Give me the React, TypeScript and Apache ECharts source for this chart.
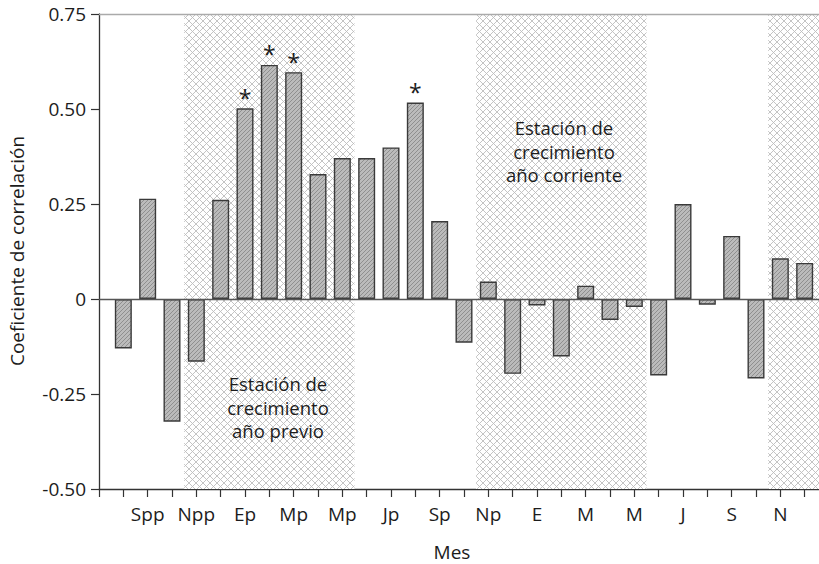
import React, { useEffect, useRef } from 'react';
import * as echarts from 'echarts';

// Month position (1 = Ago pp ... 29 = Dic) and correlation coefficient
const monthIndex = [
  1, 2, 3, 4, 5, 6, 7, 8, 9, 10, 11, 12, 13, 14, 15,
  16, 17, 18, 19, 20, 21, 22, 23, 24, 25, 26, 27, 28, 29,
];
const correlation = [
  -0.13, 0.264, -0.323, -0.165, 0.261, 0.502, 0.616, 0.597, 0.329, 0.371,
  0.371, 0.399, 0.517, 0.205, -0.115, 0.046, -0.197, -0.017, -0.151, 0.035,
  -0.055, -0.021, -0.201, 0.25, -0.015, 0.166, -0.209, 0.107, 0.095,
];
const significantMonths = [6, 7, 8, 13];
const tickLabels = [
  '', 'Spp', '', 'Npp', '', 'Ep', '', 'Mp', '', 'Mp', '', 'Jp', '', 'Sp', '',
  'Np', '', 'E', '', 'M', '', 'M', '', 'J', '', 'S', '', 'N', '',
];
const seasons = [
  [3.5, 10.5],
  [15.5, 22.5],
  [27.5, 30],
];
const noteCurrent = 'Estación de\ncrecimiento\naño corriente';
const notePrevious = 'Estación de\ncrecimiento\naño previo';
const yName = 'Coeficiente de correlación';
const xName = 'Mes';

const FONT = '"Open Sans", "Noto Sans", sans-serif';
const INK = '#1c1c1c';

function makeBarPattern(): HTMLCanvasElement {
  const c = document.createElement('canvas');
  const s = 4;
  c.width = s;
  c.height = s;
  const g = c.getContext('2d')!;
  g.fillStyle = '#bbbbbb';
  g.fillRect(0, 0, s, s);
  g.strokeStyle = '#8a8a8a';
  g.lineWidth = 0.9;
  g.beginPath();
  g.moveTo(-1, s + 1);
  g.lineTo(s + 1, -1);
  g.moveTo(-1, 1);
  g.lineTo(1, -1);
  g.moveTo(s - 1, s + 1);
  g.lineTo(s + 1, s - 1);
  g.stroke();
  return c;
}

function makeCrossPattern(): HTMLCanvasElement {
  const c = document.createElement('canvas');
  const s = 7;
  c.width = s;
  c.height = s;
  const g = c.getContext('2d')!;
  g.fillStyle = '#ffffff';
  g.fillRect(0, 0, s, s);
  g.strokeStyle = '#bdbdbd';
  g.lineWidth = 0.9;
  g.beginPath();
  g.moveTo(-1, -1);
  g.lineTo(s + 1, s + 1);
  g.moveTo(-1, s + 1);
  g.lineTo(s + 1, -1);
  g.stroke();
  return c;
}

export default function App() {
  const ref = useRef<HTMLDivElement>(null);

  useEffect(() => {
    if (!ref.current) return;
    const chart = echarts.init(ref.current, undefined, { renderer: 'svg' });
    const barPattern = { image: makeBarPattern(), repeat: 'repeat' };
    const crossPattern = { image: makeCrossPattern(), repeat: 'repeat' };

    const option: any = {
      animation: false,
      backgroundColor: '#ffffff',
      textStyle: { fontFamily: FONT },
      grid: {
        left: 99,
        right: -10,
        top: 14,
        bottom: 75,
        containLabel: false,
        outerBoundsMode: 'none',
      },
      xAxis: {
        type: 'value',
        min: 0,
        max: 30,
        interval: 1,
        axisLine: { show: true, onZero: false, lineStyle: { color: '#333', width: 1.3 } },
        axisTick: { show: true, length: 8, lineStyle: { color: '#333', width: 1.2 } },
        axisLabel: {
          fontSize: 19,
          color: INK,
          fontFamily: FONT,
          margin: 15,
          showMinLabel: true,
          showMaxLabel: true,
          hideOverlap: false,
          formatter: (v: number) => {
            const i = Math.round(v) - 1;
            return i >= 0 && i < tickLabels.length ? tickLabels[i] : '';
          },
        },
        splitLine: { show: false },
      },
      yAxis: {
        type: 'value',
        min: -0.5,
        max: 0.75,
        interval: 0.25,
        axisLine: { show: true, lineStyle: { color: '#333', width: 1.3 } },
        axisTick: { show: true, length: 8, lineStyle: { color: '#333', width: 1.2 } },
        axisLabel: {
          fontSize: 19,
          lineHeight: 16,
          color: INK,
          fontFamily: FONT,
          margin: 13,
          formatter: (v: number) => (Math.abs(v) < 1e-9 ? '0' : v.toFixed(2)),
        },
        splitLine: { show: false },
      },
      series: [
        {
          type: 'bar',
          barWidth: 17,
          data: monthIndex.map((m, i) => [m, correlation[i]]),
          itemStyle: {
            color: barPattern,
            borderColor: '#3a3a3a',
            borderWidth: 1.4,
          },
          label: {
            show: true,
            position: 'top',
            distance: -1,
            fontSize: 23,
            color: INK,
            fontFamily: FONT,
            formatter: (p: any) => (significantMonths.includes(p.data[0]) ? '*' : ''),
          },
          markArea: {
            silent: true,
            z: 1,
            itemStyle: { color: crossPattern },
            data: seasons.map((s) => [{ xAxis: s[0] }, { xAxis: s[1] }]),
          },
          markLine: {
            silent: true,
            symbol: 'none',
            label: { show: false },
            data: [
              { yAxis: 0, lineStyle: { color: '#555', width: 1.3, type: 'solid' } },
              { yAxis: 0.75, lineStyle: { color: '#aaa', width: 1.3, type: 'solid' } },
            ],
          },
        },
      ],
      graphic: [
        {
          type: 'text',
          x: 278,
          y: 407,
          style: {
            text: notePrevious,
            fontSize: 18.5,
            lineHeight: 23.5,
            fontFamily: FONT,
            fill: INK,
            align: 'center',
            verticalAlign: 'middle',
          },
          z: 10,
        },
        {
          type: 'text',
          x: 564,
          y: 151,
          style: {
            text: noteCurrent,
            fontSize: 18.5,
            lineHeight: 23.5,
            fontFamily: FONT,
            fill: INK,
            align: 'center',
            verticalAlign: 'middle',
          },
          z: 10,
        },
        {
          type: 'text',
          x: 17,
          y: 251,
          rotation: Math.PI / 2,
          style: {
            text: yName,
            fontSize: 19,
            fontFamily: FONT,
            fill: INK,
            align: 'center',
            verticalAlign: 'middle',
          },
        },
        {
          type: 'text',
          x: 452,
          y: 552,
          style: {
            text: xName,
            fontSize: 19,
            fontFamily: FONT,
            fill: INK,
            align: 'center',
            verticalAlign: 'middle',
          },
        },
      ],
    };

    chart.setOption(option);
    return () => chart.dispose();
  }, []);

  return (
    <div
      ref={ref}
      style={{ position: 'fixed', left: 0, top: 0, width: 819, height: 564 }}
    />
  );
}
